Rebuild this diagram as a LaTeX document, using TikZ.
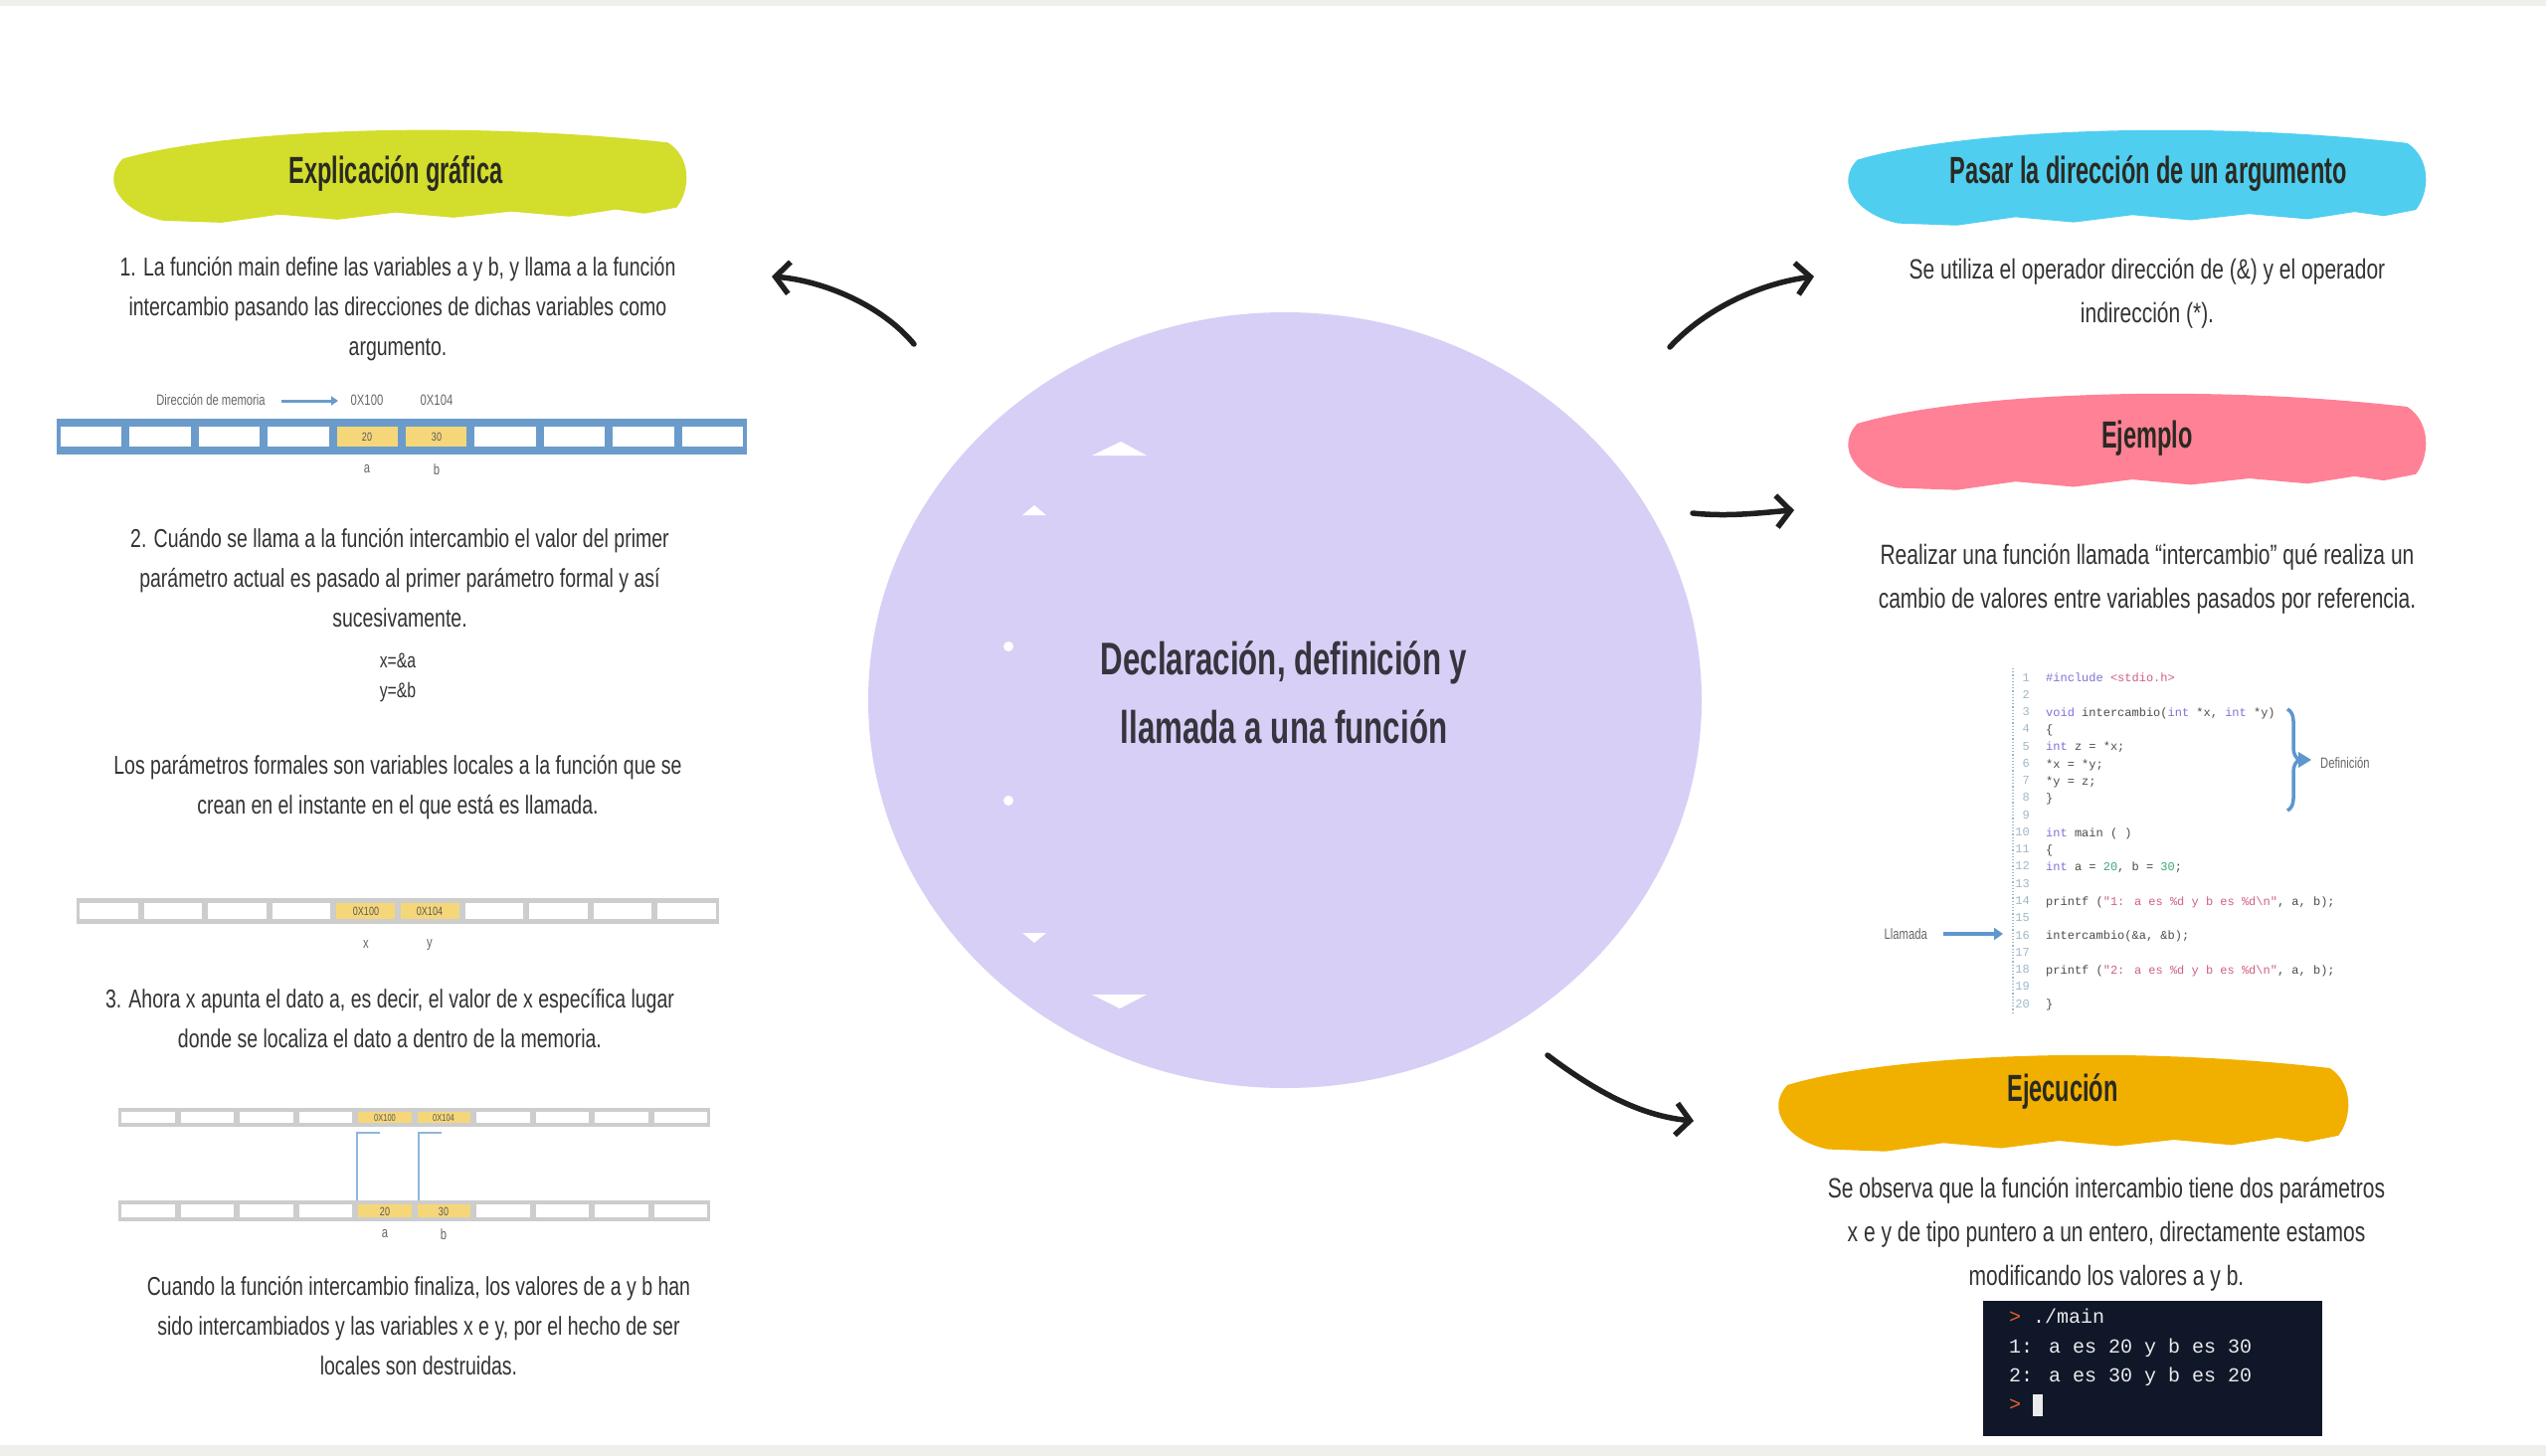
\documentclass[tikz,border=0pt]{standalone}
\usepackage{fontspec}
\setmainfont{Liberation Sans}
\newfontfamily\bodyf[FakeStretch=0.75]{Liberation Sans}
\newfontfamily\headf[FakeStretch=0.62]{Liberation Sans}
\newfontfamily\centf[FakeStretch=0.68]{Liberation Sans}
\newfontfamily\codef{Liberation Mono}
\usetikzlibrary{arrows.meta,shapes.geometric,decorations.pathreplacing}
\definecolor{lav}{HTML}{D8CFF6}
\definecolor{lime}{HTML}{D3DD2B}
\definecolor{sky}{HTML}{4FCEF0}
\definecolor{rosa}{HTML}{FF8196}
\definecolor{amber}{HTML}{F1B000}
\definecolor{term}{HTML}{0F1729}
\definecolor{memblue}{HTML}{6B9BCB}
\definecolor{memgray}{HTML}{CDCDCD}
\definecolor{cellyel}{HTML}{F5D77A}
\definecolor{txt}{HTML}{333333}
\definecolor{kw}{HTML}{7D72D6}
\definecolor{strc}{HTML}{D0607F}
\definecolor{numc}{HTML}{3DAA78}
\definecolor{lnum}{HTML}{9FB8C8}
\definecolor{prompt}{HTML}{E8622C}
\definecolor{band}{HTML}{EFEFEB}
\definecolor{bracec}{HTML}{5D97CD}
\definecolor{headc}{HTML}{2A2A22}
\newcommand\brushstroke[5]{%
 \fill[#1,shift={(#2,#3)},xscale=#4,yscale=#5] (0.03,0.32) .. controls (0.2,0.04) and (0.6,-0.07) .. (0.97,0.16) .. controls (1.01,0.30) and (1.01,0.62) .. (0.985,0.80) -- (0.93,0.86) -- (0.88,0.82) -- (0.80,0.89) -- (0.70,0.84) -- (0.60,0.90) -- (0.50,0.85) -- (0.40,0.92) -- (0.30,0.87) -- (0.20,0.95) -- (0.10,0.93) .. controls (0.03,0.85) and (-0.01,0.55) .. (0.03,0.32) -- cycle;}
\begin{document}
\begin{tikzpicture}[x=1pt,y=-1pt,
  headtxt/.style={font={\headf\bfseries\fontsize{38}{44}\selectfont},text=headc,inner sep=0},
  bodyL/.style={font={\bodyf\fontsize{26}{40}\selectfont},text=txt,align=center,inner sep=0},
  bodyR/.style={font={\bodyf\fontsize{28}{44}\selectfont},text=txt,align=center,inner sep=0},
  tiny/.style={font={\bodyf\fontsize{15}{17}\selectfont},text=black!60,inner sep=0},
  cellv/.style={font={\bodyf\fontsize{12}{14}\selectfont},text=black!65,inner sep=0},
  bigarrow/.style={line width=5.5pt,line cap=round,black!88,-{Straight Barb[length=14pt,width=32pt,line width=5.5pt]}},
  ptr/.style={line width=2.5pt,color=bracec!70}]
\useasboundingbox (0,0) rectangle (2560,1464);
\fill[white] (0,0) rectangle (2560,1464);
\fill[band] (0,0) rectangle (2560,6);
\fill[band] (0,1453) rectangle (2560,1464);

% central blob
\node[ellipse,fill=lav,minimum width=838pt,minimum height=780pt,inner sep=0] (main) at (1292,704) {};
\fill[white] (1098,458) -- (1127,444) -- (1153,458) -- cycle;
\fill[white] (1028,518) -- (1040,508) -- (1052,518) -- cycle;
\fill[white] (1014,650) circle (5);
\fill[white] (1014,805) circle (5);
\fill[white] (1028,938) -- (1040,948) -- (1052,938) -- cycle;
\fill[white] (1098,1000) -- (1126,1014) -- (1153,1000) -- cycle;
\node[font={\centf\bfseries\fontsize{46}{69}\selectfont},text=black!75!lav,align=center,inner sep=0] (title) at (1291,696) {Declaración, definición y\\llamada a una función};

% brushes and headings
\brushstroke{lime}{106}{127}{583}{102}
\node[headtxt] (h1) at (398,175) {Explicación gráfica};
\brushstroke{sky}{1850}{127}{588}{105}
\node[headtxt] (h2) at (2160,175) {Pasar la dirección de un argumento};
\brushstroke{rosa}{1850}{392}{588}{106}
\node[headtxt] (h3) at (2159,441) {Ejemplo};
\brushstroke{amber}{1780}{1057}{580}{106}
\node[headtxt] (h4) at (2074,1097) {Ejecución};

% arrows
\coordinate (aLs) at (919,346); \coordinate (aLe) at (776,278);
\coordinate (aR1s) at (1679,349); \coordinate (aR1e) at (1824,278);
\coordinate (aR2s) at (1702,516); \coordinate (aR2e) at (1804,513);
\coordinate (aR3s) at (1556,1061); \coordinate (aR3e) at (1703,1127);
\draw[bigarrow] (aLs) .. controls (885,305) and (825,282) .. (aLe);
\draw[bigarrow] (aR1s) .. controls (1715,310) and (1770,285) .. (aR1e);
\draw[bigarrow] (aR2s) .. controls (1740,520) and (1775,515) .. (aR2e);
\draw[bigarrow] (aR3s) .. controls (1605,1098) and (1650,1122) .. (aR3e);

% left column texts
\node[bodyL] (p1) at (400,311) {1. La función main define las variables a y b, y llama a la función\\intercambio pasando las direcciones de dichas variables como\\argumento.};
\node[bodyL] (p2) at (402,581) {2. Cuándo se llama a la función intercambio el valor del primer\\parámetro actual es pasado al primer parámetro formal y así\\sucesivamente.};
\node[bodyL,font={\bodyf\fontsize{21}{30}\selectfont}] (p2b) at (400,681) {x=\&a\\y=\&b};
\node[bodyL] (p3) at (400,792) {Los parámetros formales son variables locales a la función que se\\crean en el instante en el que está es llamada.};
\node[bodyL] (p4) at (392,1024) {3. Ahora x apunta el dato a, es decir, el valor de x específica lugar\\donde se localiza el dato a dentro de la memoria.};
\node[bodyL] (p5) at (421,1333) {Cuando la función intercambio finaliza, los valores de a y b han\\sido intercambiados y las variables x e y, por el hecho de ser\\locales son destruidas.};

% memory strip 1
\fill[memblue] (57,421) rectangle (751,457);
\foreach \k in {0,...,9}{\fill[white] ({61+69.4*\k},429) rectangle ({53+69.4*(\k+1)},449);}
\foreach \k in {4,5}{\fill[cellyel] ({61+69.4*\k},429) rectangle ({53+69.4*(\k+1)},449);}
\node[cellv] (m1a) at (369,439) {20};
\node[cellv] (m1b) at (439,439) {30};
\node[tiny] (m1lab) at (212,402) {Dirección de memoria};
\node[tiny] (m1ad1) at (369,402) {0X100};
\node[tiny] (m1ad2) at (439,402) {0X104};
\coordinate (m1arr) at (340,403);
\draw[memblue,line width=3pt,-{Triangle[length=7pt,width=9pt]}] (m1lab.east) ++(16,1) -- (m1arr);
\node[tiny] (m1la) at (369,472) {a};
\node[tiny] (m1lb) at (439,472) {b};

% memory strip 2
\fill[memgray] (77,903) rectangle (723,929);
\foreach \k in {0,...,9}{\fill[white] ({80+64.6*\k},908) rectangle ({74+64.6*(\k+1)},924);}
\foreach \k in {4,5}{\fill[cellyel] ({80+64.6*\k},908) rectangle ({74+64.6*(\k+1)},924);}
\node[cellv] (m2a) at (368,916) {0X100};
\node[cellv] (m2b) at (432,916) {0X104};
\node[tiny] (m2lx) at (368,950) {x};
\node[tiny] (m2ly) at (432,950) {y};

% memory strips 3 and 4
\fill[memgray] (119,1114) rectangle (714,1133);
\foreach \k in {0,...,9}{\fill[white] ({122+59.5*\k},1118) rectangle ({116+59.5*(\k+1)},1129);}
\foreach \k in {4,5}{\fill[cellyel] ({122+59.5*\k},1118) rectangle ({116+59.5*(\k+1)},1129);}
\node[cellv,font={\bodyf\fontsize{10}{12}\selectfont}] (m3a) at (387,1124) {0X100};
\node[cellv,font={\bodyf\fontsize{10}{12}\selectfont}] (m3b) at (446,1124) {0X104};
\fill[memgray] (119,1207) rectangle (714,1228);
\foreach \k in {0,...,9}{\fill[white] ({122+59.5*\k},1211) rectangle ({116+59.5*(\k+1)},1224);}
\foreach \k in {4,5}{\fill[cellyel] ({122+59.5*\k},1211) rectangle ({116+59.5*(\k+1)},1224);}
\node[cellv] (m4a) at (387,1218) {20};
\node[cellv] (m4b) at (446,1218) {30};
\node[tiny] (m4la) at (387,1241) {a};
\node[tiny] (m4lb) at (446,1241) {b};
\coordinate (px1) at (382,1139); \coordinate (py1) at (444,1139);
\draw[ptr] (px1) -- (359,1139) -- (359,1207);
\draw[ptr] (py1) -- (421,1139) -- (421,1207);

% right column texts
\node[bodyR] (r1) at (2159,295) {Se utiliza el operador dirección de (\&) y el operador\\indirección (*).};
\node[bodyR] (r2) at (2159,582) {Realizar una función llamada “intercambio” qué realiza un\\cambio de valores entre variables pasados por referencia.};
\node[bodyR] (r3) at (2118,1241) {Se observa que la función intercambio tiene dos parámetros\\x e y de tipo puntero a un entero, directamente estamos\\modificando los valores a y b.};

% code listing
\draw[lnum,line width=1.2pt,dotted] (2024,672) -- (2024,1020);
\node[font={\codef\fontsize{12}{17.26}\selectfont},text=lnum,align=right,anchor=north east,inner sep=0] (lines) at (2041,677) {1\\2\\3\\4\\5\\6\\7\\8\\9\\10\\11\\12\\13\\14\\15\\16\\17\\18\\19\\20};
\node[font={\codef\fontsize{12}{17.26}\selectfont},text=black!70,align=left,anchor=north west,inner sep=0] (code) at (2057,677) {%
{\color{kw}\#include} {\color{strc}<stdio.h>}\\
\mbox{}\\
{\color{kw}void} intercambio({\color{kw}int} *x, {\color{kw}int} *y)\\
\{\\
{\color{kw}int} z = *x;\\
*x = *y;\\
*y = z;\\
\}\\
\mbox{}\\
{\color{kw}int} main ( )\\
\{\\
{\color{kw}int} a = {\color{numc}20}, b = {\color{numc}30};\\
\mbox{}\\
printf ({\color{strc}"1: a es \%d y b es \%d\textbackslash n"}, a, b);\\
\mbox{}\\
intercambio(\&a, \&b);\\
\mbox{}\\
printf ({\color{strc}"2: a es \%d y b es \%d\textbackslash n"}, a, b);\\
\mbox{}\\
\}};
\coordinate (brT) at (2300,713); \coordinate (brB) at (2300,815);
\draw[bracec,line width=3.5pt,decorate,decoration={brace,amplitude=12pt}] (brT) -- (brB);
\fill[bracec] (2311,756) -- (2324,764) -- (2311,772) -- cycle;
\node[tiny,anchor=west] (defl) at (2333,767) {Definición};
\node[tiny,anchor=east] (llam) at (1938,939) {Llamada};
\coordinate (llamE) at (2014,939);
\draw[bracec,line width=3.5pt,-{Triangle[length=9pt,width=12pt]}] (llam.east) ++(16,0) -- (llamE);

% terminal
\node[fill=term,minimum width=341pt,minimum height=136pt,inner sep=0] (termbox) at (2164.5,1376) {};
\node[font={\codef\fontsize{20}{29.4}\selectfont},text=white!92!black,align=left,anchor=north west,inner sep=0] (termtxt) at (2020,1316) {%
{\color{prompt}>} ./main\\
1: a es 20 y b es 30\\
2: a es 30 y b es 20\\
{\color{prompt}>} \rule[-5pt]{10pt}{22pt}};
\end{tikzpicture}
\end{document}
